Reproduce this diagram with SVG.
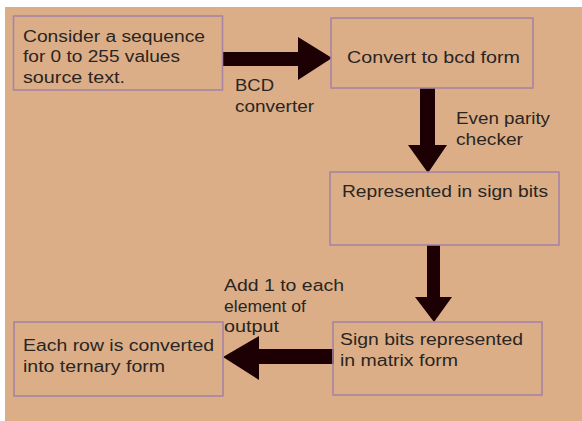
<svg xmlns="http://www.w3.org/2000/svg" width="582" height="421" viewBox="0 0 582 421">
  <style>
    .box { fill: none; stroke: #a784a4; stroke-width: 1.6; }
    .txt { font-family: "Liberation Sans", Arial, sans-serif; font-size: 16px; fill: #2a2522; }
    .big { font-size: 17px; }
    .arrow { fill: #1c0004; }
  </style>
  <rect x="0" y="0" width="582" height="421" fill="#ffffff"/>
  <rect x="5" y="7" width="577" height="414" fill="#dbae88"/>

  <g id="connectors">
    <!-- source to BCD conversion -->
    <polygon class="arrow" points="223,52 298,52 298,37 332,58 298,80 298,66 223,66"/>
    <!-- BCD form to sign bits -->
    <polygon class="arrow" points="420,88 435,88 435,145 447,145 428,173 408,145 420,145"/>
    <!-- sign bits to matrix form -->
    <polygon class="arrow" points="427,245 440,245 440,297 452,297 434,322 415,297 427,297"/>
    <!-- matrix form to ternary form -->
    <polygon class="arrow" points="334,349 259,349 259,336 223,357 259,380 259,364 334,364"/>
    <text class="txt" x="235" y="91" textLength="39" lengthAdjust="spacingAndGlyphs">BCD</text>
    <text class="txt" x="235" y="112" textLength="79" lengthAdjust="spacingAndGlyphs">converter</text>
    <text class="txt" x="456" y="124" textLength="94" lengthAdjust="spacingAndGlyphs">Even parity</text>
    <text class="txt" x="456" y="145" textLength="67" lengthAdjust="spacingAndGlyphs">checker</text>
    <text class="txt" x="224" y="291" textLength="120" lengthAdjust="spacingAndGlyphs">Add 1 to each</text>
    <text class="txt" x="224" y="312" textLength="82" lengthAdjust="spacingAndGlyphs">element of</text>
    <text class="txt" x="224" y="332" textLength="55" lengthAdjust="spacingAndGlyphs">output</text>
  </g>

  <g id="source">
    <rect class="box" x="13.5" y="16" width="209" height="74"/>
    <text class="txt" x="23" y="42" textLength="182" lengthAdjust="spacingAndGlyphs">Consider a sequence</text>
    <text class="txt" x="23" y="62" textLength="157" lengthAdjust="spacingAndGlyphs">for 0 to 255 values</text>
    <text class="txt" x="23" y="83" textLength="102" lengthAdjust="spacingAndGlyphs">source text.</text>
  </g>

  <g id="bcd">
    <rect class="box" x="331" y="18" width="202" height="70"/>
    <text class="txt big" x="347" y="63" textLength="173" lengthAdjust="spacingAndGlyphs">Convert to bcd form</text>
  </g>

  <g id="signbits">
    <rect class="box" x="330" y="172" width="229" height="73"/>
    <text class="txt" x="342" y="197" textLength="206" lengthAdjust="spacingAndGlyphs">Represented in sign bits</text>
  </g>

  <g id="matrix">
    <rect class="box" x="333" y="322" width="209" height="73"/>
    <text class="txt" x="340" y="345" textLength="183" lengthAdjust="spacingAndGlyphs">Sign bits represented</text>
    <text class="txt" x="340" y="366" textLength="118" lengthAdjust="spacingAndGlyphs">in matrix form</text>
  </g>

  <g id="ternary">
    <rect class="box" x="14" y="322" width="209" height="74"/>
    <text class="txt" x="23" y="351" textLength="191" lengthAdjust="spacingAndGlyphs">Each row is converted</text>
    <text class="txt" x="23" y="372" textLength="142" lengthAdjust="spacingAndGlyphs">into ternary form</text>
  </g>
</svg>
